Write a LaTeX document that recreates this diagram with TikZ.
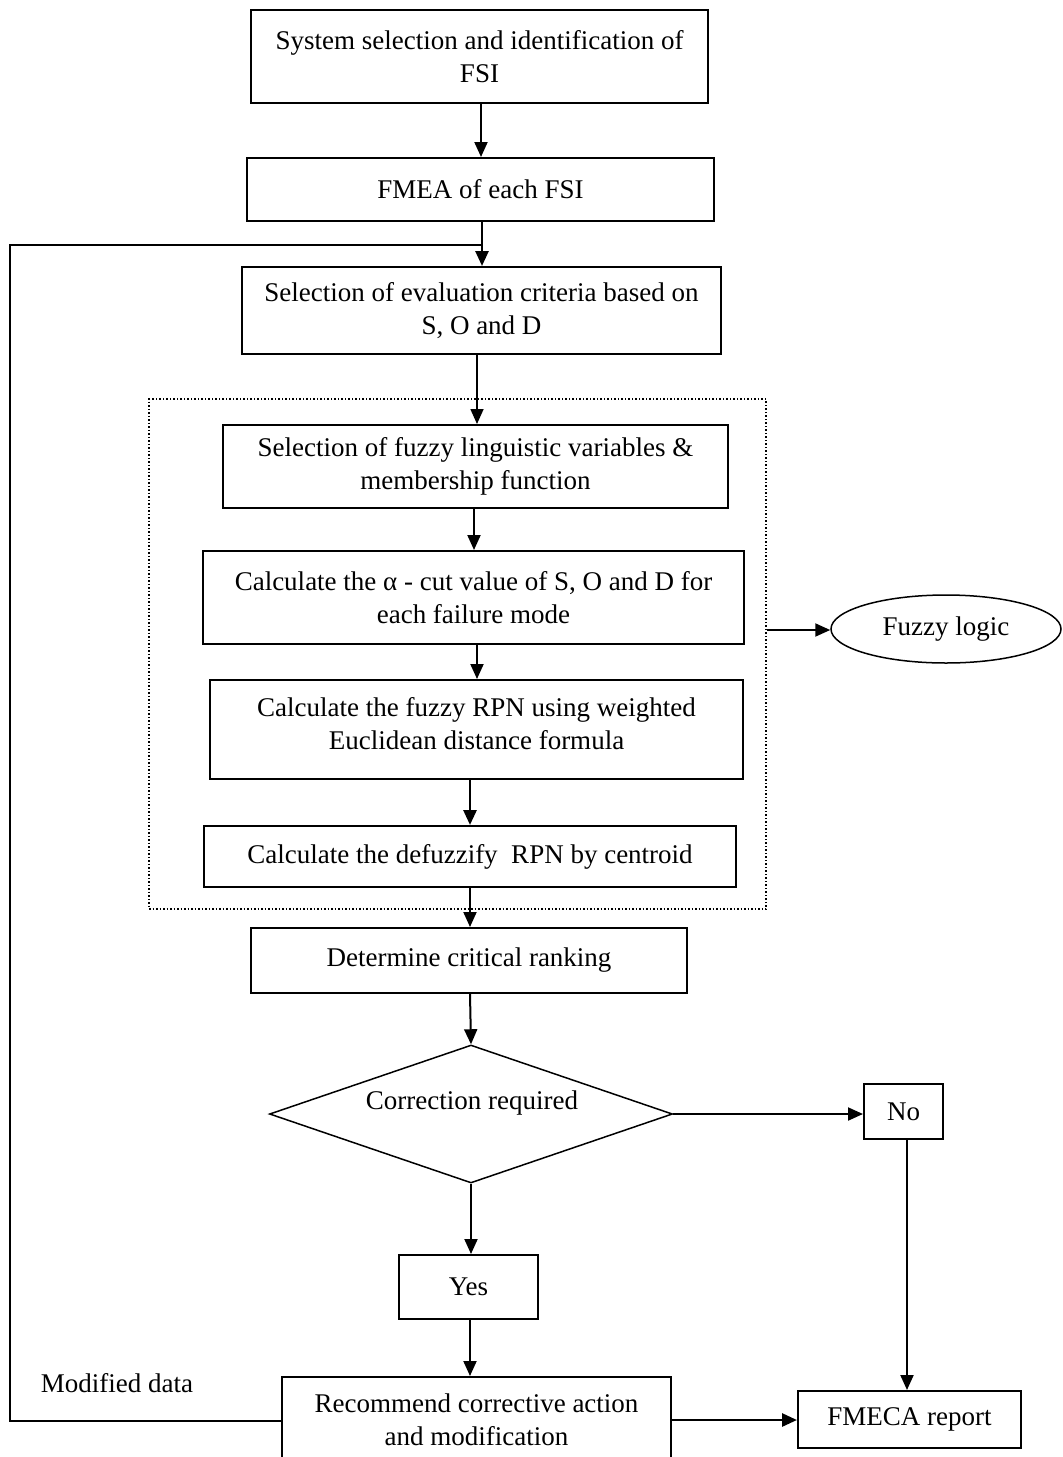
\documentclass[tikz,border=0pt]{standalone}
\usepackage{fontspec}
\setmainfont{Liberation Serif}
\usetikzlibrary{arrows.meta,shapes.geometric,calc}
\begin{document}
\begin{tikzpicture}[x=1pt,y=-1pt,
  every node/.style={font=\fontsize{27}{33}\selectfont},
  box/.style={draw,line width=2pt,align=center,inner sep=0pt},
  arr/.style={line width=2pt,-{Triangle[length=15pt,width=13pt]}},
  plain/.style={line width=2pt}]
\useasboundingbox (0,0) rectangle (1063,1457);
\node[box,minimum width=457,minimum height=93] (b1) at (479.5,56.5) {System selection and identification of\\FSI};
\node[box,minimum width=467,minimum height=63] (b2) at (480.5,189.5) {FMEA of each FSI};
\node[box,minimum width=479,minimum height=87] (b3) at (481.5,310.5) {Selection of evaluation criteria based on\\S, O and D};
\node[box,minimum width=505,minimum height=83] (b4) at (475.5,466.5) {Selection of fuzzy linguistic variables \&\\membership function};
\node[box,minimum width=541,minimum height=93] (b5) at (473.5,597.5) {Calculate the α - cut value of S, O and D for\\each failure mode};
\node[box,minimum width=533,minimum height=99] (b6) at (476.5,729.5) {};
\node[align=center] (b6t) at (476.5,724) {Calculate the fuzzy RPN using weighted\\Euclidean distance formula};
\node[box,minimum width=532,minimum height=61] (b7) at (470,856.5) {Calculate the defuzzify\ \ RPN by centroid};
\node[draw,dotted,line width=1.5pt,minimum width=617,minimum height=510,inner sep=0pt] (fz) at (457.5,654) {};
\node[box,minimum width=436,minimum height=65] (b8) at (469,960.5) {Determine critical ranking};
\node[draw,diamond,line width=1.5pt,minimum width=403,minimum height=138,inner sep=0pt] (dm) at (471,1114) {};
\node (dmt) at (472,1103) {Correction required};
\node[box,minimum width=79,minimum height=55] (no) at (903.5,1111.5) {No};
\node[box,minimum width=139,minimum height=64] (yes) at (468.5,1287) {Yes};
\node[box,minimum width=389,minimum height=126] (rec) at (476.5,1440) {};
\node[align=center] (rect) at (476.5,1420) {Recommend corrective action\\and modification};
\node[box,minimum width=223,minimum height=57] (rep) at (909.5,1419.5) {FMECA report};
\node[draw,ellipse,line width=1.5pt,minimum width=230,minimum height=68,inner sep=0pt] (fl) at (946,629) {Fuzzy logic};
\node (md) at (117,1383) {Modified data};
\coordinate (loopL) at (10,1421);
\coordinate (loopT) at (10,245);
\draw[arr] (b1.south -| 481,0) -- (b2.north -| 481,0);
\draw[arr,line width=2.6pt] (b2.south -| 482,0) -- (b3.north -| 482,0);
\draw[plain] (rec.west |- loopL) -- (loopL) -- (loopT) -- (482,245);
\draw[arr,line width=1.6pt] (b3.south -| 477,0) -- (b4.north -| 477,0);
\draw[arr] (b4.south -| 474,0) -- (b5.north -| 474,0);
\draw[arr] (b5.south -| 477,0) -- (b6.north -| 477,0);
\draw[arr,line width=2.8pt] (b6.south -| 470,0) -- (b7.north -| 470,0);
\draw[arr] (b7.south -| 470,0) -- (b8.north -| 470,0);
\draw[arr] (b8.south -| 470,0) -- (dm.north);
\draw[arr] (fz.east |- 0,630) -- (fl.west |- 0,630);
\draw[arr] (dm.east) -- (no.west |- dm.east);
\draw[arr] (dm.south) -- (yes.north -| dm.south);
\draw[arr] (yes.south -| 470,0) -- (rec.north -| 470,0);
\draw[arr] (no.south -| 907,0) -- (rep.north -| 907,0);
\draw[arr,line width=2.8pt] (rec.east |- 0,1420) -- (rep.west |- 0,1420);
\end{tikzpicture}
\end{document}
